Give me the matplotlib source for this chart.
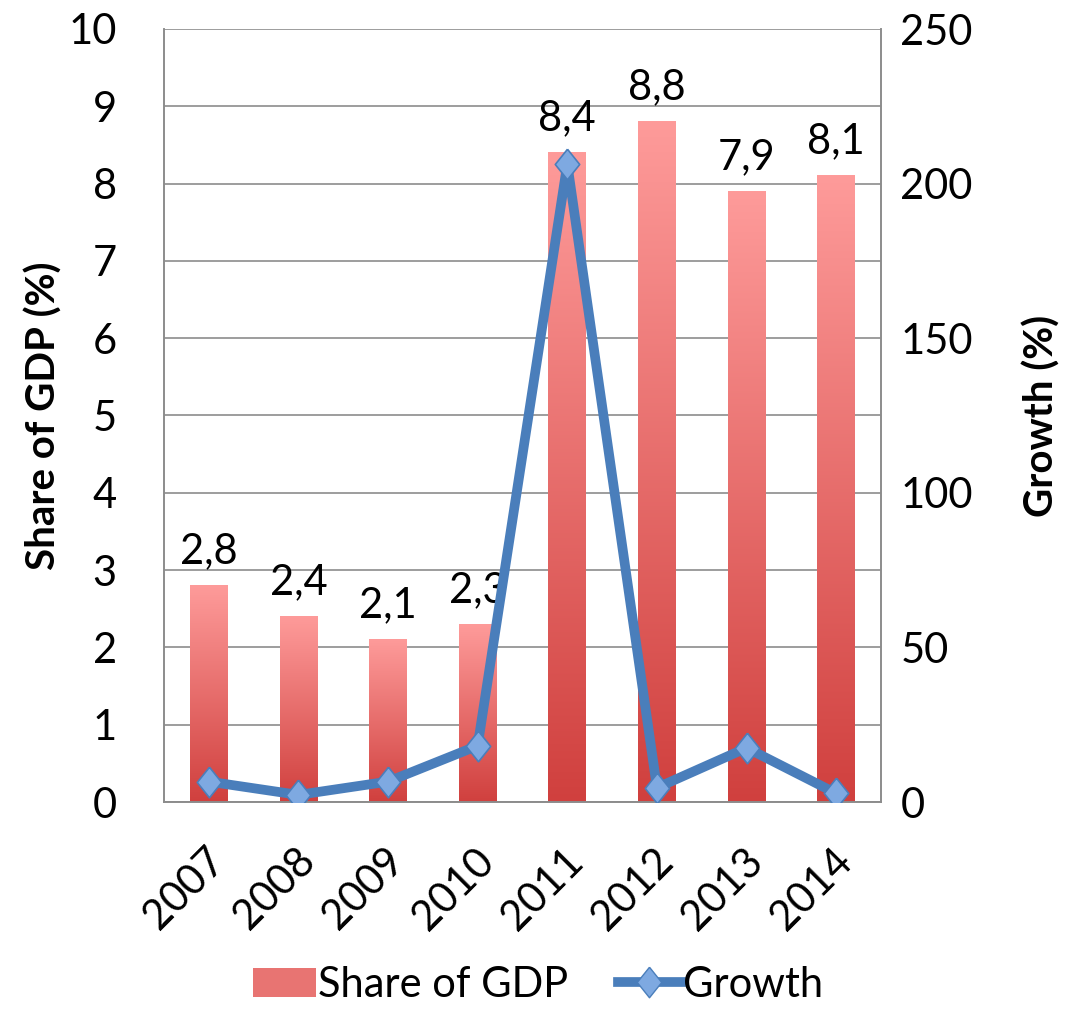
import matplotlib
matplotlib.use("Agg")
import matplotlib.pyplot as plt
import numpy as np
from matplotlib.colors import LinearSegmentedColormap
from matplotlib.patches import Patch
from matplotlib.lines import Line2D
from matplotlib.transforms import ScaledTranslation

years = ["2007", "2008", "2009", "2010", "2011", "2012", "2013", "2014"]
share_gdp = [2.8, 2.4, 2.1, 2.3, 8.4, 8.8, 7.9, 8.1]
share_labels = ["2,8", "2,4", "2,1", "2,3", "8,4", "8,8", "7,9", "8,1"]
growth = [6.6, 2.3, 6.6, 18.2, 206.4, 4.6, 17.5, 2.8]

plt.rcParams['font.family'] = ['Lato', 'DejaVu Sans']

# diamond a bit taller than wide, like the Excel marker
diamond = [(0, 1), (0.8, 0), (0, -1), (-0.8, 0), (0, 1)]

fig = plt.figure(figsize=(10.76, 10.15), dpi=100)
ax = fig.add_axes([164 / 1076, 1 - 802 / 1015, 717 / 1076, 773 / 1015])
ax2 = ax.twinx()

x = np.arange(len(years))
width = 0.42
bars = ax.bar(x, share_gdp, width=width, color='none', zorder=2)

cmap = LinearSegmentedColormap.from_list("bar", ["#d0403e", "#fe9b9a"])
grad = np.linspace(0, 1, 256).reshape(-1, 1)
for b in bars:
    x0 = b.get_x()
    h = b.get_height()
    ax.imshow(grad, cmap=cmap, origin='lower', aspect='auto',
              extent=(x0, x0 + b.get_width(), 0, h), zorder=2)

for xi, v, lab in zip(x, share_gdp, share_labels):
    ax.text(xi, v + 0.2, lab, ha='center', va='bottom', fontsize=30)

ax.set_xlim(-0.5, len(years) - 0.5)
ax.set_ylim(0, 10)
ax.set_yticks(range(0, 11))
ax.yaxis.grid(True, color='#8c8c8c', linewidth=1.2)
ax.set_axisbelow(True)

ax2.plot(x, growth, color='#4a7ebb', linewidth=7, marker=diamond, markersize=22,
         markerfacecolor='#7ea9e1', markeredgecolor='#4a7ebb', markeredgewidth=1.2,
         zorder=5)
ax2.set_ylim(0, 250)
ax2.set_yticks(range(0, 251, 50))
ax2.set_xlim(-0.5, len(years) - 0.5)

for a in (ax, ax2):
    for s in a.spines.values():
        s.set_color('#8c8c8c')
        s.set_linewidth(1.2)
    a.spines['top'].set_visible(False)
    a.tick_params(length=0, labelsize=30)
ax.tick_params(axis='y', pad=34)
ax2.tick_params(axis='y', pad=14)

ax.set_xticks(x)
ax.set_xticklabels(years, rotation=45, ha='right', va='center',
                   rotation_mode='anchor', fontsize=30)
ax.tick_params(axis='x', pad=38)
shift = ScaledTranslation(10 / 100, 0, fig.dpi_scale_trans)
for lbl in ax.get_xticklabels():
    lbl.set_transform(lbl.get_transform() + shift)

ax.set_ylabel("Share of GDP (%)", fontsize=29, fontweight='bold', labelpad=4)
ax2.set_ylabel("Growth (%)", fontsize=29, fontweight='bold', labelpad=36)

handles = [Patch(facecolor='#e87472', edgecolor='none'),
           Line2D([0], [0], color='#4a7ebb', linewidth=7, marker=diamond, markersize=22,
                  markerfacecolor='#7ea9e1', markeredgecolor='#4a7ebb')]
fig.legend(handles, ["Share of GDP", "Growth"], loc='lower center',
           bbox_to_anchor=(0.5, -0.026), ncol=2, frameon=False, fontsize=30,
           handlelength=1.5, handletextpad=0.05, columnspacing=1.2)

fig.savefig("out.png", dpi=100)
